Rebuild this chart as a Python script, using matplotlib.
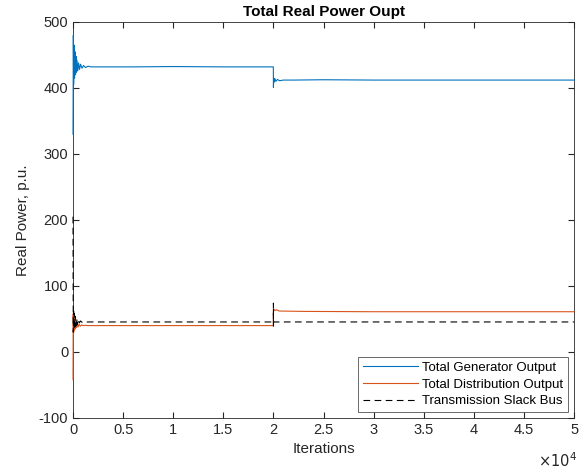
import numpy as np
import matplotlib.pyplot as plt

plt.rcParams['font.family'] = ['Liberation Sans', 'DejaVu Sans']
plt.rcParams['axes.unicode_minus'] = False

# values (iterations, p.u.)
gen_iter = [0, 30, 60, 100, 150, 200, 250, 300, 350, 400, 470, 550, 650, 750, 900,
            1050, 1250, 1500, 1800, 2200, 3000, 6000, 10000, 15000, 19990,
            20000, 20030, 20080, 20150, 20250, 20400, 20600, 21000, 22000, 25000,
            30000, 35000, 40000, 45000, 50000]
gen_val = [330, 480, 405, 465, 415, 455, 420, 448, 424, 442, 426, 438, 428, 436, 430,
           434, 431, 433, 432, 432, 432, 432, 432.5, 432, 432,
           401, 415, 409, 414, 410, 413, 411, 412, 412, 412.5,
           412, 412, 412, 412, 412]

dist_iter = [0, 20, 50, 90, 130, 180, 230, 290, 350, 420, 500, 600, 720, 850, 1000,
             1200, 1500, 2000, 5000, 10000, 19990,
             20000, 20050, 20150, 20300, 20600, 21000, 23000, 30000, 40000, 50000]
dist_val = [-42, 58, 28, 52, 32, 48, 35, 45, 37, 43, 38, 42, 39, 41, 40,
            40.5, 40, 40, 40, 40, 40,
            60, 65, 63, 64, 62, 62, 61.5, 61, 61, 61]

slack_iter = [0, 25, 60, 100, 140, 190, 240, 300, 360, 430, 520, 620, 750, 900, 1100,
              1400, 2000, 10000, 19995, 20000, 20005, 20010, 20030, 30000, 50000]
slack_val = [205, 30, 62, 35, 58, 38, 54, 40, 51, 42, 49, 44, 47, 45, 46,
             45.5, 45.5, 45.5, 45.5, 74, 38, 45.5, 45.5, 45.5, 45.5]

x_ticks = [0, 5000, 10000, 15000, 20000, 25000, 30000, 35000, 40000, 45000, 50000]
x_labels = ['0', '0.5', '1', '1.5', '2', '2.5', '3', '3.5', '4', '4.5', '5']
y_ticks = [-100, 0, 100, 200, 300, 400, 500]

fig = plt.figure(figsize=(5.87, 4.73), dpi=100)
ax = fig.add_axes([0.1244, 0.1163, 0.8535, 0.8372])

ax.plot(gen_iter, gen_val, color='#0072BD', lw=0.8, label='Total Generator Output',
        zorder=3, clip_on=False)
ax.plot(dist_iter, dist_val, color='#D95319', lw=0.8, label='Total Distribution Output',
        zorder=3, clip_on=False)
ax.plot(slack_iter, slack_val, color='black', lw=0.8, ls=(0, (6, 4)),
        label='Transmission Slack Bus', zorder=3, clip_on=False)

ax.set_xlim(0, 50000)
ax.set_ylim(-100, 500)
ax.set_xticks(x_ticks)
ax.set_xticklabels(x_labels)
ax.set_yticks(y_ticks)
ax.tick_params(direction='in', top=True, right=True, labelsize=10.5,
               colors='#262626', length=4)
for s in ax.spines.values():
    s.set_color('#262626')
    s.set_linewidth(0.6)
    s.set_zorder(2)

ax.set_xlabel('Iterations', fontsize=11, color='#262626', labelpad=4)
ax.set_ylabel('Real Power, p.u.', fontsize=11, color='#262626', labelpad=6)
ax.set_title('Total Real Power Oupt', fontsize=11, fontweight='bold', pad=4)
ax.text(1.005, -0.085, r'$\times 10^4$', transform=ax.transAxes, ha='right', va='top',
        fontsize=10.5, color='#262626')

leg = ax.legend(loc='lower right', fontsize=9.5, frameon=True, fancybox=False,
                edgecolor='#262626', handlelength=4.2, borderpad=0.35,
                labelspacing=0.35, handletextpad=0.3, borderaxespad=0.45)
leg.get_frame().set_linewidth(0.6)
leg.set_zorder(5)

plt.savefig('out.png', dpi=100)
